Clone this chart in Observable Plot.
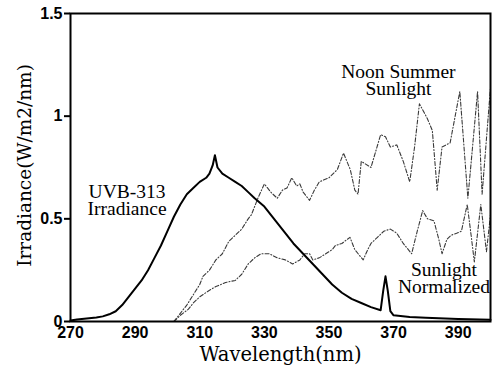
<!DOCTYPE html>
<html>
<head>
<meta charset="utf-8">
<script src="https://cdn.jsdelivr.net/npm/d3@7"></script>
<script src="https://cdn.jsdelivr.net/npm/@observablehq/plot@0.6"></script>
<style>
  html, body { margin: 0; padding: 0; background: #fff; }
  #chart svg { display: block; }
</style>
</head>
<body>
<div id="chart"></div>
<script>
// UVB-313 lamp spectral irradiance (W/m2/nm) by wavelength (nm)
const uvbWavelength = [270, 272, 275, 278, 280, 282, 284, 286, 288, 290, 292, 294, 296, 298, 300, 302, 304, 306, 308, 310, 312, 313, 314, 314.7, 315.5, 317, 319, 321, 323, 325, 327, 330, 333, 336, 339, 342, 345, 348, 351, 354, 357, 360, 363, 366, 366.8, 367.5, 368.2, 369, 370, 375, 380, 390, 400];
const uvbIrradiance = [0.005, 0.01, 0.015, 0.02, 0.025, 0.035, 0.05, 0.08, 0.12, 0.16, 0.2, 0.25, 0.31, 0.37, 0.44, 0.51, 0.57, 0.62, 0.65, 0.68, 0.70, 0.72, 0.76, 0.81, 0.75, 0.72, 0.70, 0.68, 0.66, 0.63, 0.60, 0.56, 0.50, 0.44, 0.38, 0.33, 0.28, 0.23, 0.18, 0.14, 0.11, 0.09, 0.07, 0.055, 0.15, 0.22, 0.15, 0.05, 0.03, 0.022, 0.018, 0.012, 0.008];

// Noon summer sunlight spectrum
const sunWavelength = [302, 304, 306, 308, 310, 311, 313, 315, 317, 319, 321, 323, 325, 326, 328, 330, 332, 334, 335.6, 337, 338.5, 340, 341, 342, 344, 345.5, 347, 350, 352.6, 354.5, 356.6, 358, 359, 360, 363, 366, 367.5, 369, 371, 373, 375, 376.5, 378, 380.4, 382, 383.5, 385, 387.5, 390.5, 393, 396, 397.4, 400];
const sunIrradiance = [0.0, 0.04, 0.08, 0.13, 0.18, 0.22, 0.25, 0.30, 0.33, 0.39, 0.42, 0.45, 0.50, 0.52, 0.60, 0.67, 0.63, 0.60, 0.64, 0.65, 0.70, 0.66, 0.67, 0.63, 0.59, 0.64, 0.68, 0.70, 0.74, 0.82, 0.74, 0.64, 0.62, 0.78, 0.75, 0.91, 0.90, 0.85, 0.86, 0.78, 0.68, 0.85, 1.06, 0.99, 0.93, 0.64, 0.85, 0.87, 1.12, 0.60, 1.12, 0.62, 1.14];

// Sunlight spectrum normalized to the lamp
const normWavelength = [302, 304, 306.5, 308, 310, 312.8, 315, 318, 321, 323, 325, 327, 329, 331.5, 334, 336.5, 338.75, 341, 342.5, 344, 345, 347, 349, 351, 352, 354, 356.5, 358, 360.6, 362, 363, 365, 367, 369, 371, 373, 375.6, 377, 379, 380.5, 382.5, 384, 385, 386.5, 387.8, 389.5, 391, 392.8, 394, 395, 397, 398.75, 400];
const normIrradiance = [0.0, 0.03, 0.06, 0.09, 0.12, 0.15, 0.17, 0.19, 0.20, 0.23, 0.28, 0.31, 0.33, 0.33, 0.31, 0.30, 0.28, 0.30, 0.33, 0.33, 0.30, 0.31, 0.33, 0.35, 0.37, 0.38, 0.41, 0.35, 0.30, 0.35, 0.38, 0.41, 0.44, 0.45, 0.43, 0.38, 0.33, 0.42, 0.54, 0.50, 0.49, 0.40, 0.33, 0.40, 0.42, 0.43, 0.44, 0.57, 0.42, 0.29, 0.57, 0.34, 0.52];

const xTicks = [270, 290, 310, 330, 350, 370, 390];
const yTicks = [0, 0.5, 1, 1.5];
const yTickLabels = ["0", "0.5", "1", "1.5"];

const xTitle = "Wavelength(nm)";
const yTitle = "Irradiance(W/m2/nm)";

const toRows = (xs, ys) => xs.map((x, i) => ({x, y: ys[i]}));
const uvb = toRows(uvbWavelength, uvbIrradiance);
const sun = toRows(sunWavelength, sunIrradiance);
const norm = toRows(normWavelength, normIrradiance);

const serif = "Liberation Serif, Times New Roman, serif";
const wideSerif = "DejaVu Serif, serif";
const sans = "Liberation Sans, Arial, sans-serif";

const chart = Plot.plot({
  width: 493,
  height: 370,
  marginLeft: 70,
  marginRight: 3,
  marginTop: 13,
  marginBottom: 49,
  x: {domain: [270, 400]},
  y: {domain: [0, 1.5]},
  style: {background: "#fff", color: "#000"},
  marks: [
    Plot.axisX({
      ticks: xTicks, tickSize: 0, tickPadding: 5, label: null,
      fontSize: 16, fontWeight: "bold", fontFamily: sans
    }),
    Plot.axisY({
      ticks: yTicks, tickFormat: (d, i) => yTickLabels[i], tickSize: 6, tickPadding: 2, label: null,
      strokeWidth: 2, fontSize: 16, fontWeight: "bold", fontFamily: sans
    }),
    Plot.line(sun, {x: "x", y: "y", stroke: "#3a3a3a", strokeWidth: 1.1, strokeDasharray: "4,2,1,2"}),
    Plot.line(norm, {x: "x", y: "y", stroke: "#3a3a3a", strokeWidth: 1.1, strokeDasharray: "4,2,1,2"}),
    Plot.line(uvb, {x: "x", y: "y", stroke: "#000", strokeWidth: 2}),
    Plot.frame({stroke: "#000", strokeWidth: 2}),
    Plot.text(["UVB-313\nIrradiance"], {x: 287.5, y: 0.585, fontSize: 19.5, fontFamily: serif, lineHeight: 0.88}),
    Plot.text(["Noon Summer\nSunlight"], {x: 371.5, y: 1.17, fontSize: 19.5, fontFamily: serif, lineHeight: 0.88}),
    Plot.text(["Sunlight\nNormalized"], {x: 385.6, y: 0.205, fontSize: 19.5, fontFamily: serif, lineHeight: 0.88}),
    Plot.text([xTitle], {frameAnchor: "bottom", textAnchor: "middle", lineAnchor: "middle", dy: 33, fontSize: 19.5, fontFamily: wideSerif}),
    Plot.text([yTitle], {frameAnchor: "left", textAnchor: "middle", lineAnchor: "middle", dx: -45, dy: -2, rotate: -90, fontSize: 18.5, fontFamily: wideSerif})
  ]
});

document.getElementById("chart").appendChild(chart);
</script>
</body>
</html>
